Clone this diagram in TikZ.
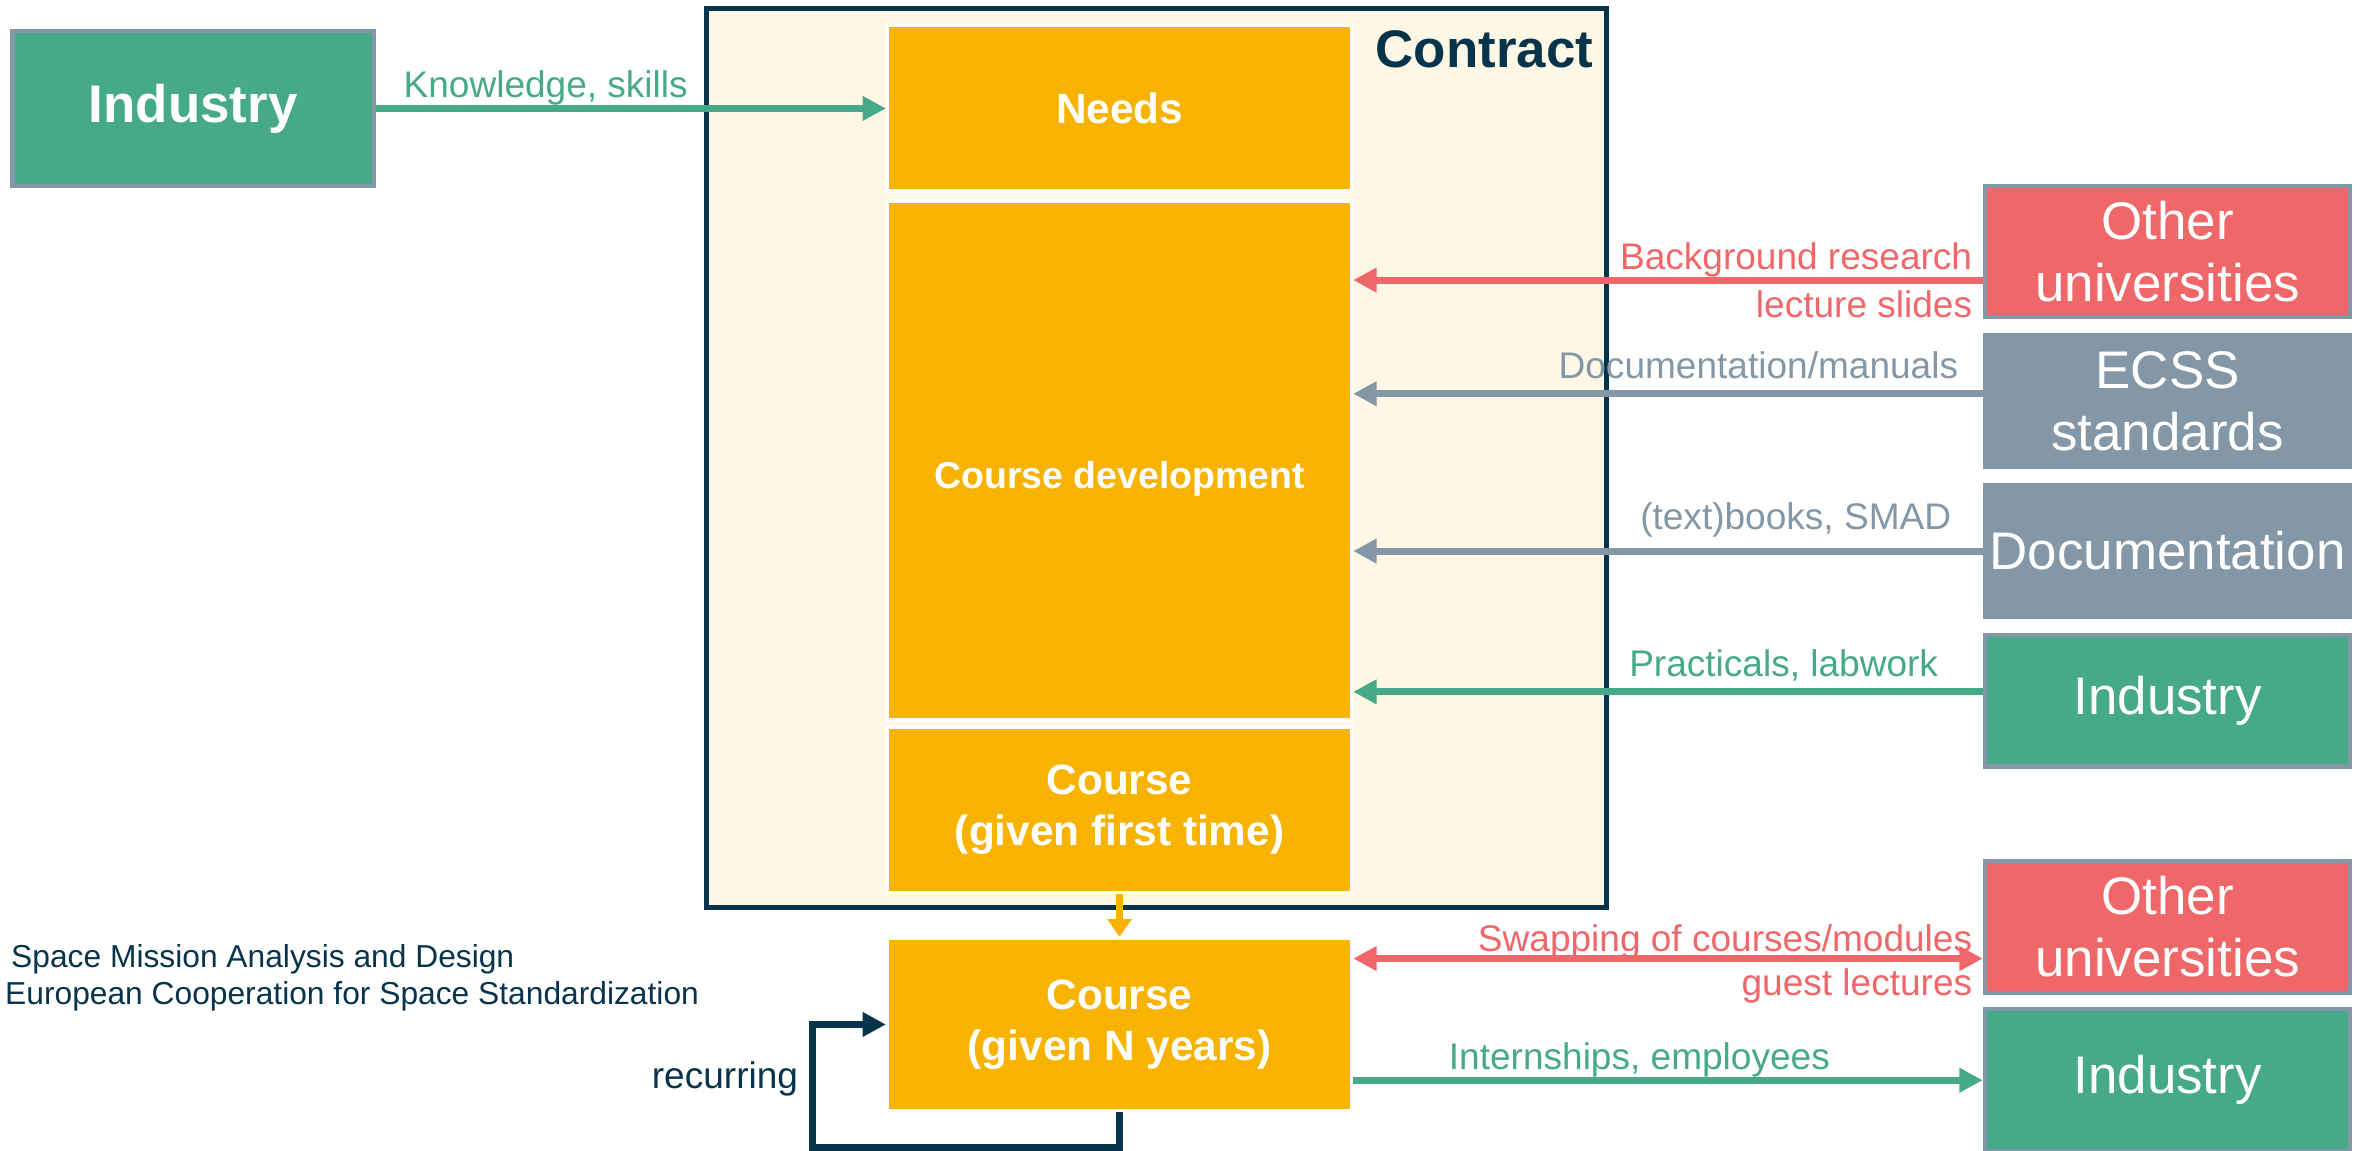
\documentclass[tikz,border=0pt]{standalone}
\usepackage{fontspec}
\setmainfont{Liberation Sans}
\usetikzlibrary{positioning}
\usetikzlibrary{chains}
\usetikzlibrary{fit}
\usetikzlibrary{arrows.meta}
\usetikzlibrary{backgrounds}

\definecolor{indgreen}{HTML}{46A989}
\definecolor{unired}{HTML}{F0676A}
\definecolor{docgrey}{HTML}{8497A6}
\definecolor{courseorange}{HTML}{F8B300}
\definecolor{navy}{HTML}{07344B}
\definecolor{cream}{HTML}{FFF7E6}

\begin{document}
\begin{tikzpicture}[
        node distance = 1.4mm,
        start chain = going below,
        lbl/.style = {font=\fontsize{10.5}{12.6}\selectfont,inner sep=2pt},
        src/.style = {draw=docgrey,line width=1.2pt,text=white,align=center,
            minimum width=36.4mm,minimum height=13.1mm,inner xsep=0.5pt,
            font=\fontsize{15}{17.5}\selectfont},
        srcbox/.style = {src,on chain},
        course/.style = {draw=white,line width=1pt,fill=courseorange,
            text=white,align=center,minimum width=46.2mm,
            font=\bfseries\fontsize{12}{14.6}\selectfont},
        contract/.style = {draw=navy,line width=1.4pt,fill=cream,inner sep=0pt},
        arr/.style = {line width=2pt,-{Triangle[length=6.6pt,width=6.6pt]}},
        dblarr/.style = {line width=2pt,
            {Triangle[length=6.6pt,width=6.6pt]}-{Triangle[length=6.6pt,width=6.6pt]}}]
    \useasboundingbox (0,0) rectangle (235.2mm,-114.57mm);

    \node[course,minimum height=16.5mm] (needs) at (111.53mm,-10.8mm) {Needs};
    \node[course,minimum height=51.7mm,below=0.6mm of needs,
        font=\bfseries\fontsize{10.6}{12.8}\selectfont,
        text height=18pt,text depth=2.2pt] (dev) {Course development};
    \node[course,minimum height=16.5mm,below=0.35mm of dev] (first) {Course\\(given first time)};
    \node[course,minimum height=17.1mm,below=4.25mm of first] (nyears) {Course\\(given N years)};

    \node[src,fill=indgreen,minimum width=36mm,minimum height=15.5mm,
        font=\bfseries\fontsize{15}{18}\selectfont,left=50.8mm of needs] (ind1) {Industry};

    \begin{scope}[on background layer]
        \node[contract,fit={([xshift=-17.85mm,yshift=1.5mm]needs.north west)
            ([xshift=25.2mm,yshift=-1.3mm]first.south east)}] (cbox) {};
    \end{scope}
    \node[anchor=north east,inner sep=4.2pt,yshift=-2.4pt,text=navy,
        font=\bfseries\fontsize{15}{18}\selectfont] (clbl) at (cbox.north east) {Contract};

    \node[srcbox,fill=unired] (uni1) at (215.93mm,-25.05mm) {Other\\universities};
    \node[srcbox,fill=docgrey] (ecss) {ECSS\\standards};
    \node[srcbox,fill=docgrey] (doc) {Documentation};
    \node[srcbox,fill=indgreen] (ind2) {Industry};
    \node[src,fill=unired,below=9mm of ind2] (uni2) {Other\\universities};
    \node[src,fill=indgreen,minimum height=14.2mm,below=1.2mm of uni2] (ind3) {Industry};

    \draw[arr,indgreen] (ind1) -- node[lbl,pos=0,above right,xshift=1.7mm,yshift=-2.1pt]{Knowledge, skills} (needs);

    \draw[arr,unired] ([yshift=-2.85mm]uni1.west)
        -- node[lbl,pos=0,above left,yshift=-2.1pt]{Background research}
           node[lbl,pos=0,below left]{lecture slides}
        ([yshift=-2.85mm]uni1.west -| dev.east);
    \draw[arr,docgrey] ([yshift=0.75mm]ecss.west)
        -- node[lbl,pos=0,above left,xshift=-1.4mm,yshift=1.3pt]{Documentation/manuals}
        ([yshift=0.75mm]ecss.west -| dev.east);
    \draw[arr,docgrey] (doc.west)
        -- node[lbl,pos=0,above left,xshift=-2.1mm,yshift=1pt]{(text)books, SMAD}
        (doc.west -| dev.east);
    \draw[arr,indgreen] ([yshift=0.9mm]ind2.west)
        -- node[lbl,pos=0,above left,xshift=-3.4mm]{Practicals, labwork}
        ([yshift=0.9mm]ind2.west -| dev.east);

    \draw[line width=2pt,courseorange,-{Triangle[length=5pt,width=6.6pt]}] (first) -- (nyears);

    \draw[dblarr,unired] ([yshift=-3.15mm]nyears.east |- uni2.west)
        -- node[lbl,pos=1,above left,yshift=-3.2pt]{Swapping of courses/modules}
           node[lbl,pos=1,below left]{guest lectures}
        ([yshift=-3.15mm]uni2.west);
    \draw[arr,indgreen] (nyears.east |- ind3.west)
        -- node[lbl,midway,above,xshift=-2.85mm,yshift=-2.1pt]{Internships, employees} (ind3.west);

    \draw[arr,navy] (nyears.south) -- ++(0,-3.55mm)
        -| node[lbl,pos=0.78,left,inner sep=3pt]{recurring} ([xshift=-7.35mm]nyears.west)
        -- (nyears.west);

    \node[anchor=west,align=left,inner sep=0pt,text=navy,
        font=\fontsize{9}{10.7}\selectfont] (notes) at (0.45mm,-97.4mm)
        {\hspace*{0.6mm}Space Mission Analysis and Design\\European Cooperation for Space Standardization};
\end{tikzpicture}
\end{document}
